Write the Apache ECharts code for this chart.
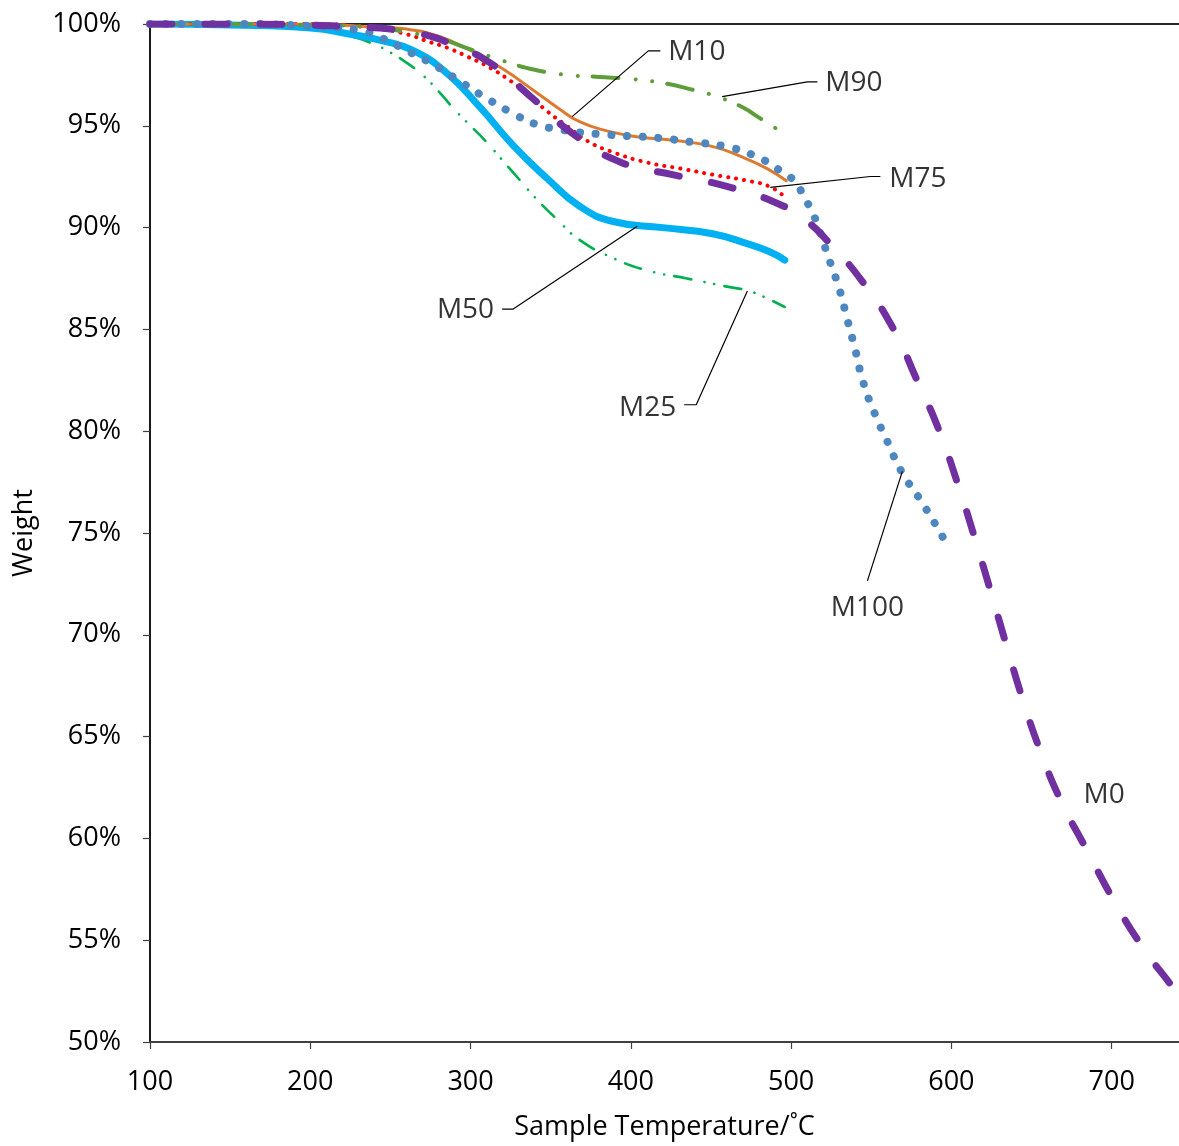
<!DOCTYPE html>
<html>
<head>
<meta charset="utf-8">
<script src="https://cdn.jsdelivr.net/npm/echarts@6/dist/echarts.min.js"></script>
<style>
  html, body { margin: 0; padding: 0; background: #fff; }
  #chart { width: 1179px; height: 1146px; }
</style>
</head>
<body>
<div id="chart"></div>
<script>
// Thermogravimetric weight-loss curves (weight % vs sample temperature, °C)

const tempM0 = [100, 150, 200, 230, 250, 270, 290, 312, 338, 364, 394, 426, 461, 494, 510, 522, 544, 564, 578, 592, 604, 614, 625, 635, 645, 655, 668, 684, 701, 719, 738, 742];
const weightM0 = [100, 100, 99.95, 99.85, 99.75, 99.5, 98.95, 98.1, 96.4, 94.6, 93.2, 92.6, 92.0, 91.1, 90.3, 89.4, 87.4, 85.0, 82.6, 80.1, 77.4, 74.9, 72.0, 69.3, 66.7, 64.4, 61.9, 59.5, 57.0, 54.7, 52.7, 52.3];

const tempM100 = [100, 150, 200, 230, 245, 260, 277, 295, 311, 329, 340, 357, 379, 398, 418, 438, 458, 478, 495, 503, 508, 513, 517, 523, 530, 535, 540, 545, 552, 560, 569, 580, 591, 596];
const weightM100 = [100, 100, 99.9, 99.7, 99.3, 98.7, 98.0, 97.1, 96.3, 95.5, 95.1, 94.8, 94.6, 94.5, 94.4, 94.2, 94.0, 93.5, 92.7, 92.2, 91.5, 90.8, 90.0, 88.6, 87.0, 85.5, 84.0, 82.4, 80.9, 79.5, 78.0, 76.7, 75.3, 74.6];

const tempM10 = [100, 200, 240, 260, 280, 300, 320, 340, 355, 368, 385, 405, 425, 450, 470, 485, 497];
const weightM10 = [100, 100, 99.85, 99.75, 99.4, 98.7, 97.8, 96.7, 95.85, 95.2, 94.75, 94.45, 94.3, 94.0, 93.45, 92.9, 92.3];

const tempM75 = [100, 200, 240, 260, 275, 285, 298, 311, 325, 335, 348, 360, 373, 389, 410, 431, 451, 473, 487, 496];
const weightM75 = [100, 100, 99.8, 99.5, 99.1, 98.85, 98.4, 97.9, 97.2, 96.6, 95.7, 95.0, 94.25, 93.7, 93.2, 92.9, 92.6, 92.3, 92.0, 91.5];

const tempM90 = [100, 200, 240, 260, 280, 300, 320, 340, 360, 380, 400, 420, 437, 455, 470, 480, 490, 497];
const weightM90 = [100, 99.95, 99.85, 99.6, 99.3, 98.75, 98.2, 97.75, 97.5, 97.4, 97.3, 97.1, 96.8, 96.4, 95.9, 95.4, 94.9, 94.4];

const tempM50 = [100, 150, 200, 225, 244, 264, 285, 306, 327, 348, 368, 389, 420, 451, 473, 487, 496];
const weightM50 = [100, 99.95, 99.8, 99.5, 99.2, 98.7, 97.6, 95.9, 94.0, 92.4, 91.05, 90.3, 90.0, 89.7, 89.2, 88.8, 88.4];

const tempM25 = [100, 150, 200, 225, 240, 250, 260, 270, 280, 290, 300, 310, 320, 330, 340, 354, 368, 389, 410, 435, 460, 473, 483, 496];
const weightM25 = [100, 99.95, 99.8, 99.4, 99.0, 98.6, 98.1, 97.5, 96.7, 95.8, 95.0, 94.2, 93.3, 92.4, 91.5, 90.4, 89.4, 88.5, 87.9, 87.5, 87.1, 86.9, 86.6, 86.1];

const xTicks = [100, 200, 300, 400, 500, 600, 700];
const yTicks = [50, 55, 60, 65, 70, 75, 80, 85, 90, 95, 100];

// Callout names, where the text sits, and the leader path (temperature, weight)
const calloutNames = ['M10', 'M90', 'M75', 'M50', 'M25', 'M100', 'M0'];
const calloutText = [[423.3, 98.63], [521.3, 97.11], [561.3, 92.37], [314.7, 85.96], [428.3, 81.16], [547.6, 71.3], [682.4, 62.13]];
const calloutPaths = [
  [[363.4, 95.45], [410.9, 98.68], [418.4, 98.68]],
  [[457.0, 96.43], [510.1, 97.16], [516.4, 97.16]],
  [[487.0, 91.98], [549.4, 92.51], [555.7, 92.51]],
  [[404.0, 90.07], [326.6, 86.0], [319.7, 86.0]],
  [[472.7, 86.89], [440.8, 81.3], [433.3, 81.3]],
  [[569.4, 78.03], [547.6, 72.65]],
  []
];
const calloutAnchor = ['right', 'right', 'right', 'left', 'left', 'inside', 'right'];

const FONT = '"Open Sans", "Noto Sans", sans-serif';

function pairs(xs, ys) { return xs.map((x, i) => [x, ys[i]]); }

function curve(name, xs, ys, color, width, dash, z) {
  return {
    name: name,
    type: 'line',
    data: pairs(xs, ys),
    smooth: 0.5,
    showSymbol: false,
    silent: true,
    z: z,
    lineStyle: { color: color, width: width, type: dash || 'solid', cap: 'round', join: 'round' }
  };
}

const series = [
  curve('M25', tempM25, weightM25, '#00B050', 2.6, [17, 13.5, 0.1, 10, 0.1, 10.5], 2),
  curve('M50', tempM50, weightM50, '#00B0F0', 7, null, 3),
  curve('M75', tempM75, weightM75, '#FF0000', 4, [0.1, 8], 4),
  curve('M10', tempM10, weightM10, '#DC7A30', 3, null, 5),
  curve('M90', tempM90, weightM90, '#5F9C3A', 4, [26, 17, 0.1, 16.7, 0.1, 15], 6),
  curve('M100', tempM100, weightM100, '#4E86C0', 8, [0.1, 15.6], 7),
  curve('M0', tempM0, weightM0, '#7030A0', 7, [22, 33], 8)
];

calloutPaths.forEach(function (path) {
  if (!path.length) return;
  series.push({
    type: 'line',
    data: path,
    showSymbol: false,
    silent: true,
    z: 9,
    lineStyle: { color: '#000', width: 1.2 }
  });
});

series.push({
  type: 'scatter',
  symbolSize: 0,
  silent: true,
  z: 10,
  data: calloutText.map(function (p, i) {
    return {
      value: p,
      label: {
        show: true,
        formatter: calloutNames[i],
        position: calloutAnchor[i],
        distance: 0,
        align: calloutAnchor[i] === 'right' ? 'left' : (calloutAnchor[i] === 'left' ? 'right' : 'center'),
        verticalAlign: 'middle',
        color: '#000',
        fontSize: 28,
        fontFamily: FONT
      }
    };
  })
});

const chart = echarts.init(document.getElementById('chart'), null, { renderer: 'canvas' });
chart.setOption({
  animation: false,
  backgroundColor: '#fff',
  grid: { left: 150, top: 24, right: 0, bottom: 100, containLabel: false },
  xAxis: [{
    type: 'value',
    min: 100,
    max: 742,
    interval: 100,
    name: 'Sample Temperature/˚C',
    nameLocation: 'middle',
    nameGap: 72,
    nameTextStyle: { color: '#000', fontSize: 27, fontFamily: FONT },
    axisLine: { show: true, onZero: false, lineStyle: { color: '#404040', width: 2 } },
    axisTick: { show: true, length: 7, customValues: xTicks, lineStyle: { color: '#404040', width: 1.2 } },
    axisLabel: { customValues: xTicks, margin: 27, color: '#000', fontSize: 27, fontFamily: FONT },
    splitLine: { show: false }
  }, {
    type: 'value',
    position: 'top',
    min: 100,
    max: 742,
    axisLine: { show: true, onZero: false, lineStyle: { color: '#262626', width: 2 } },
    axisTick: { show: false },
    axisLabel: { show: false },
    splitLine: { show: false }
  }],
  yAxis: {
    type: 'value',
    min: 50,
    max: 100,
    interval: 5,
    name: 'Weight',
    nameLocation: 'middle',
    nameGap: 112,
    nameTextStyle: { color: '#000', fontSize: 27, fontFamily: FONT },
    axisLine: { show: true, onZero: false, lineStyle: { color: '#1a1a1a', width: 2 } },
    axisTick: { show: true, length: 7, customValues: yTicks, lineStyle: { color: '#404040', width: 1.2 } },
    axisLabel: { customValues: yTicks, margin: 29, color: '#000', fontSize: 27, fontFamily: FONT, formatter: '{value}%' },
    splitLine: { show: false }
  },
  series: series
});
</script>
</body>
</html>
